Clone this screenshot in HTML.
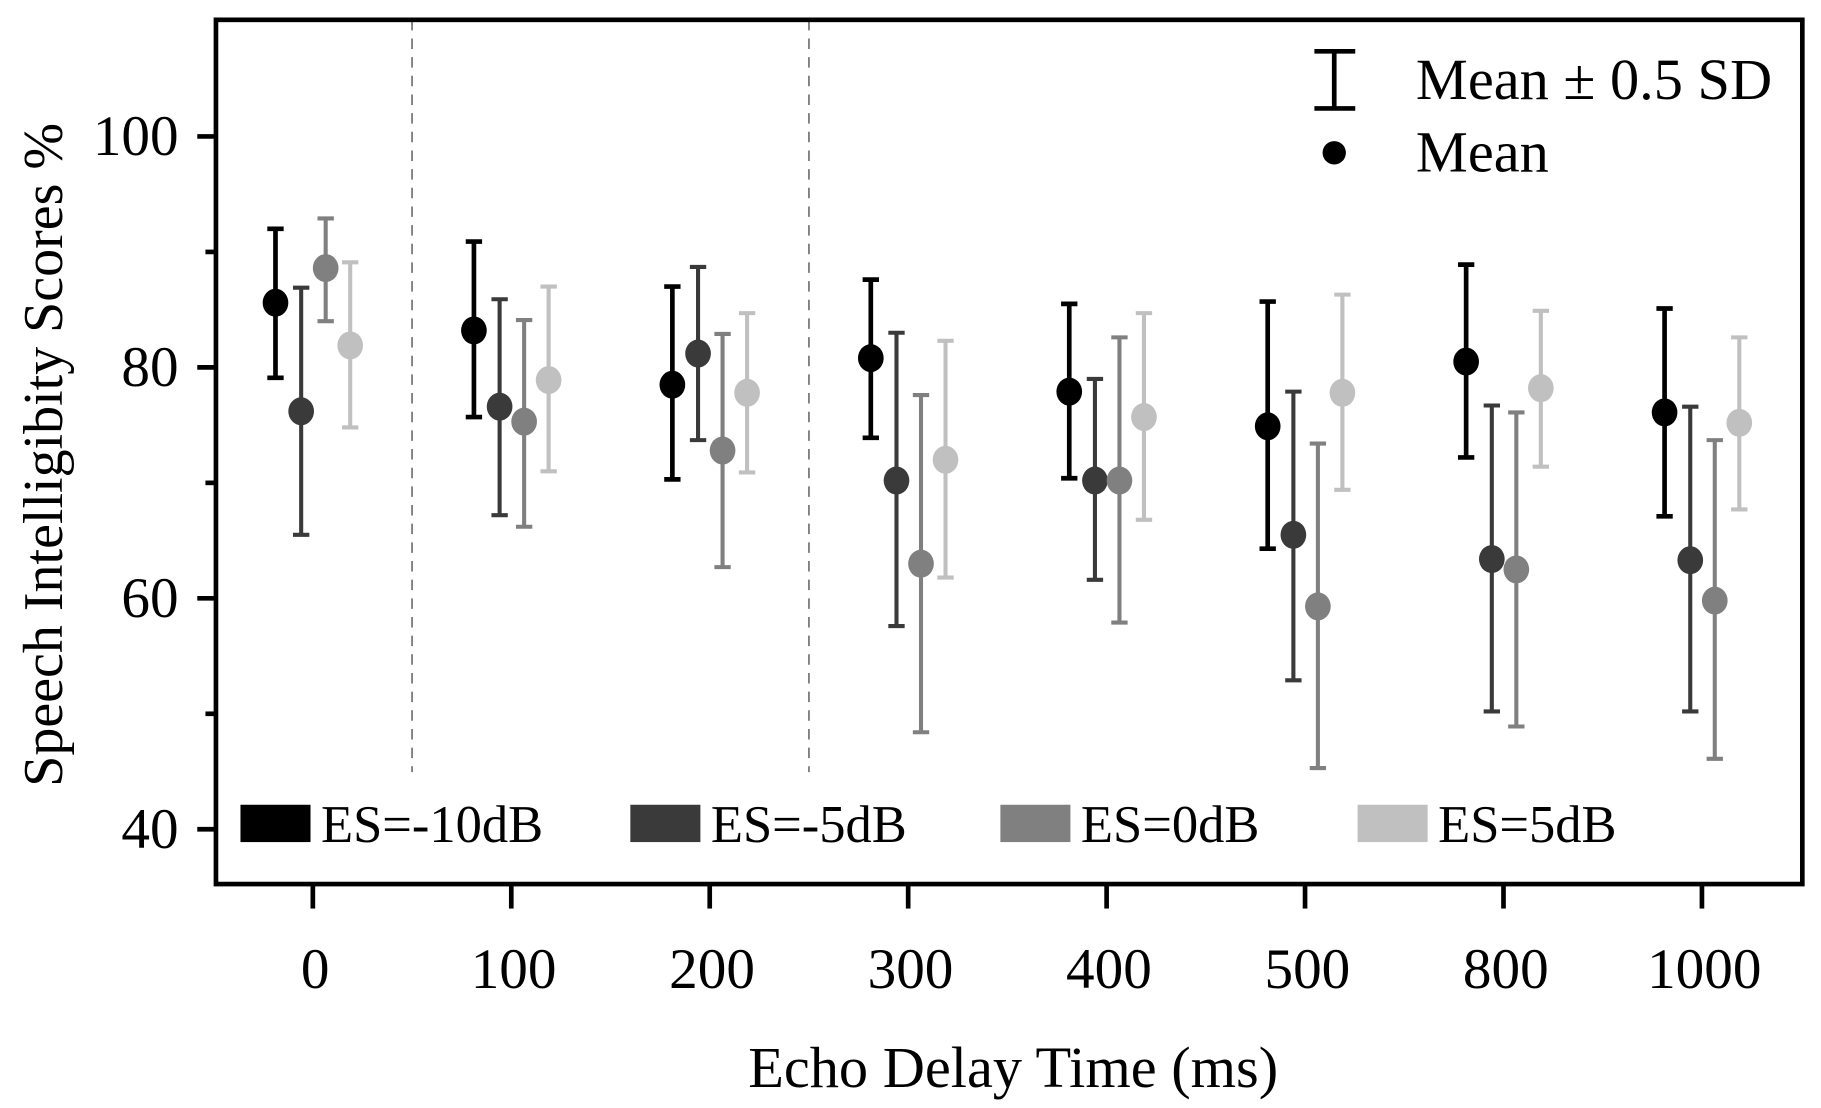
<!DOCTYPE html>
<html><head><meta charset="utf-8"><style>
html,body{margin:0;padding:0;background:#fff;}
svg{display:block;font-family:"Liberation Serif",serif;}
</style></head><body>
<svg id="chart" width="1821" height="1108" viewBox="0 0 1560 950" preserveAspectRatio="none" xmlns="http://www.w3.org/2000/svg">
<g id="plot"></g>
</svg>
<script>
const categories = ["0","100","200","300","400","500","800","1000"];
const seriesNames = ["ES=-10dB","ES=-5dB","ES=0dB","ES=5dB"];
const meanM10 = [85.6,83.2,78.5,80.8,77.9,74.9,80.5,76.1];
const hiM10   = [92.0,90.9,87.0,87.6,85.5,85.7,88.9,85.1];
const loM10   = [79.1,75.7,70.3,73.9,70.4,64.3,72.2,67.1];
const meanM5  = [76.2,76.6,81.2,70.2,70.2,65.5,63.4,63.3];
const hiM5    = [86.9,85.9,88.7,83.0,79.0,77.9,76.7,76.6];
const loM5    = [65.5,67.2,73.7,57.6,61.6,52.9,50.2,50.2];
const mean0   = [88.6,75.3,72.8,63.0,70.2,59.3,62.5,59.8];
const hi0     = [92.9,84.1,82.9,77.6,82.6,73.4,76.1,73.7];
const lo0     = [84.0,66.2,62.7,48.4,57.9,45.3,48.9,46.1];
const mean5   = [81.9,78.9,77.8,72.0,75.7,77.8,78.2,75.2];
const hi5     = [89.1,87.0,84.7,82.3,84.7,86.3,84.9,82.6];
const lo5     = [74.8,71.0,70.9,61.8,66.8,69.4,71.4,67.7];
const yTicks = [40,60,80,100];
const yMinor = [50,70,90];

const NS="http://www.w3.org/2000/svg";
const g=document.getElementById('plot');
const L=185,R=1544,T=17,B=758;
const yS=v=>117+(100-v)*9.9;
const xS=i=>268+i*170;
const offs=[-32,-10,11,32];
const colors=["#000000","#3a3a3a","#808080","#c0c0c0"];
function mk(tag,attrs,parent){const e=document.createElementNS(NS,tag);for(const k in attrs)e.setAttribute(k,attrs[k]);(parent||g).appendChild(e);return e;}

[0.5,2.5].forEach(p=>{
  const d=mk('line',{x1:xS(p),x2:xS(p),y1:T,y2:662,stroke:'#777','stroke-width':1.5,'stroke-dasharray':'9,7'});
  
  
});
const fr=mk('rect',{x:L,y:T,width:R-L,height:B-T,fill:'none',stroke:'#000','stroke-width':4});


yTicks.forEach(v=>{
  const t=mk('line',{x1:L-16,x2:L,y1:yS(v),y2:yS(v),stroke:'#000','stroke-width':4});
  
  
  const tx=mk('text',{x:L-32,y:yS(v)+16,'text-anchor':'end','font-size':49});
  tx.textContent=v;
  
  
});
yMinor.forEach(v=>{
  const t=mk('line',{x1:L-9,x2:L,y1:yS(v),y2:yS(v),stroke:'#000','stroke-width':4});
  
  
});
categories.forEach((c,i)=>{
  const t=mk('line',{x1:xS(i),x2:xS(i),y1:B,y2:B+21,stroke:'#000','stroke-width':4});
  
  
  const tx=mk('text',{x:xS(i)+2,y:847,'text-anchor':'middle','font-size':49});
  tx.textContent=c;
  
  
});
const means=[meanM10,meanM5,mean0,mean5],his=[hiM10,hiM5,hi0,hi5],los=[loM10,loM5,lo0,lo5];
means.forEach((m,s)=>{
  m.forEach((v,i)=>{
    const x=xS(i)+offs[s];const c=colors[s];const w=s===0?4:3.5;
    const gr=mk('g',{});
    
    
    mk('line',{x1:x,x2:x,y1:yS(his[s][i]),y2:yS(los[s][i]),stroke:c,'stroke-width':w},gr);
    mk('line',{x1:x-7,x2:x+7,y1:yS(his[s][i]),y2:yS(his[s][i]),stroke:c,'stroke-width':w},gr);
    mk('line',{x1:x-7,x2:x+7,y1:yS(los[s][i]),y2:yS(los[s][i]),stroke:c,'stroke-width':w},gr);
    mk('ellipse',{cx:x,cy:yS(v),rx:11,ry:12,fill:c},gr);
  });
});
const lx=[206,540,857,1163];
seriesNames.forEach((n,s)=>{
  const gr=mk('g',{});
  
  
  mk('rect',{x:lx[s],y:690,width:60,height:32,fill:colors[s]},gr);
  const tx=mk('text',{x:lx[s]+69,y:722,'font-size':45},gr);
  tx.textContent=n;
});
const tl=mk('g',{});


mk('line',{x1:1143,x2:1143,y1:44,y2:93,stroke:'#000','stroke-width':4},tl);
mk('line',{x1:1126,x2:1161,y1:44,y2:44,stroke:'#000','stroke-width':4},tl);
mk('line',{x1:1126,x2:1161,y1:93,y2:93,stroke:'#000','stroke-width':4},tl);
let t1=mk('text',{x:1213,y:85,'font-size':50},tl);t1.textContent="Mean ± 0.5 SD";
mk('circle',{cx:1143,cy:131,r:10,fill:'#000'},tl);
let t2=mk('text',{x:1213,y:147,'font-size':50},tl);t2.textContent="Mean";
const yt=mk('text',{x:0,y:0,'text-anchor':'middle','font-size':48,transform:'translate(53,390) rotate(-90)'});
yt.textContent="Speech Intelligibity Scores %";


const xt=mk('text',{x:868,y:932,'text-anchor':'middle','font-size':50});
xt.textContent="Echo Delay Time (ms)";


</script>
</body></html>
